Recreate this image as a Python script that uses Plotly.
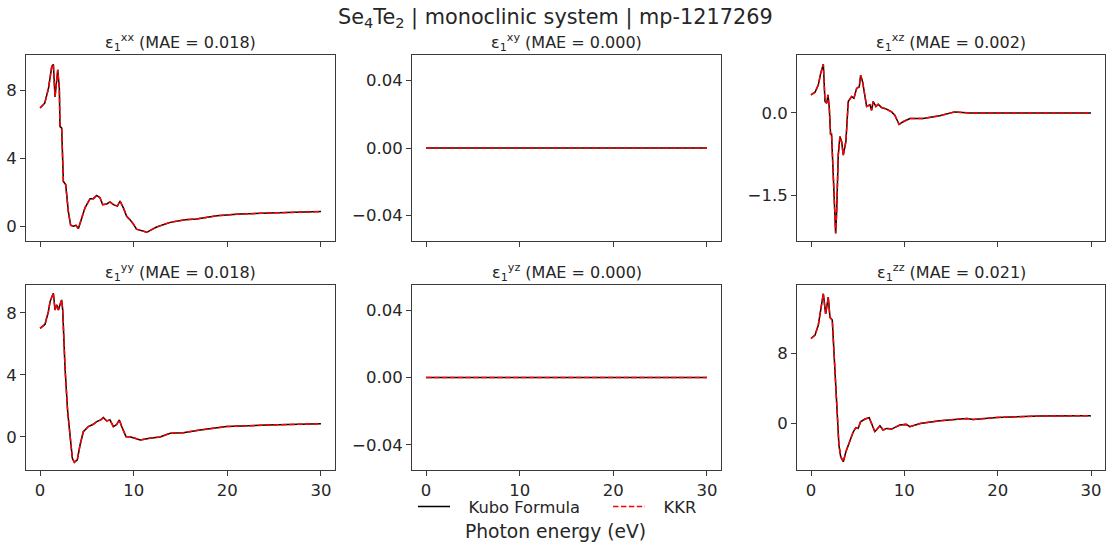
import plotly.graph_objects as go

# ---------------- data ----------------
e_xx = [0.0, 0.5, 0.9, 1.25, 1.42, 1.6, 1.89, 2.06, 2.13, 2.31, 2.49, 2.74, 3.02, 3.27, 3.56, 3.84, 4.09,
        4.45, 4.8, 5.34, 5.7, 6.05, 6.4, 6.69, 7.12, 7.47, 7.83, 8.26, 8.54, 8.9, 9.25, 9.6, 9.96, 10.3,
        11.4, 12.45, 13.9, 15.5, 16.7, 18.9, 21.3, 24.5, 27.4, 30.0]
v_xx = [6.95, 7.23, 8.1, 9.37, 9.5, 7.6, 9.18, 8.1, 5.87, 5.77, 2.65, 2.46, 0.9, 0.08, 0.02, 0.08, -0.12,
        0.5, 1.1, 1.64, 1.64, 1.83, 1.7, 1.29, 1.33, 1.45, 1.29, 1.2, 1.5, 1.1, 0.61, 0.41, 0.16, -0.15,
        -0.33, -0.02, 0.25, 0.41, 0.45, 0.64, 0.74, 0.8, 0.84, 0.88]

e_xy = [0.0, 30.0]
v_xy = [0.0, 0.0]

e_xz = [0.0, 0.43, 0.78, 1.03, 1.32, 1.5, 1.68, 1.82, 1.96, 2.1, 2.2, 2.39, 2.5, 2.64, 2.75, 2.92, 3.1,
        3.28, 3.46, 3.74, 3.99, 4.35, 4.6, 4.89, 5.17, 5.32, 5.53, 5.78, 5.96, 6.31, 6.49, 6.66, 6.95,
        7.2, 7.56, 8.1, 8.63, 8.98, 9.44, 9.87, 10.6, 12.0, 13.8, 15.4, 17.0, 19.1, 30.0]
v_xz = [0.33, 0.38, 0.51, 0.72, 0.89, 0.21, 0.18, 0.33, 0.09, -0.4, -0.37, -1.07, -1.71, -2.2, -1.8,
        -0.77, -0.43, -0.52, -0.77, -0.52, 0.21, 0.3, 0.27, 0.45, 0.48, 0.69, 0.57, 0.27, 0.12, 0.15,
        0.05, 0.21, 0.12, 0.16, 0.1, 0.07, 0.02, -0.04, -0.21, -0.16, -0.1, -0.1, -0.05, 0.02, 0.0, 0.0, 0.0]

e_yy = [0.0, 0.53, 0.89, 1.07, 1.42, 1.6, 1.78, 1.96, 2.13, 2.31, 2.42, 2.67, 2.95, 3.2, 3.45, 3.66,
        3.98, 4.27, 4.62, 5.16, 5.69, 6.05, 6.48, 6.76, 7.12, 7.47, 7.83, 8.18, 8.47, 8.72, 9.18, 9.6,
        10.1, 10.7, 11.7, 12.8, 13.9, 15.3, 17.1, 19.9, 24.2, 30.0]
v_yy = [7.0, 7.27, 8.08, 8.73, 9.27, 8.19, 8.52, 8.19, 8.52, 8.84, 8.19, 4.43, 1.63, -0.08, -1.37, -1.63,
        -1.48, -0.52, 0.34, 0.67, 0.82, 0.99, 1.1, 1.25, 1.03, 1.1, 0.67, 0.8, 1.1, 0.67, 0.02, 0.02,
        -0.08, -0.19, -0.08, 0.0, 0.24, 0.28, 0.45, 0.67, 0.77, 0.85]

e_yz = [0.0, 30.0]
v_yz = [0.0, 0.0]

e_zz = [0.0, 0.43, 0.78, 1.03, 1.32, 1.57, 1.85, 2.03, 2.28, 2.46, 2.75, 2.99, 3.18, 3.46, 3.74, 4.17,
        4.53, 4.81, 5.06, 5.31, 5.78, 6.24, 6.49, 6.84, 7.09, 7.38, 7.73, 8.1, 8.63, 9.17, 9.52, 10.2,
        10.6, 11.7, 13.8, 16.7, 17.4, 19.9, 24.5, 30.0]
v_zz = [9.68, 10.06, 11.2, 12.7, 14.8, 12.5, 14.4, 12.1, 11.8, 8.15, 1.68, -2.51, -3.85, -4.42, -3.28,
        -1.94, -0.99, -0.53, -0.61, 0.15, 0.46, 0.61, -0.04, -0.99, -0.69, -0.3, -0.8, -0.61, -0.69,
        -0.42, -0.23, -0.15, -0.42, -0.04, 0.27, 0.53, 0.42, 0.65, 0.8, 0.84]

components = ["xx", "xy", "xz", "yy", "yz", "zz"]
mae = ["0.018", "0.000", "0.002", "0.018", "0.000", "0.021"]
energies = [e_xx, e_xy, e_xz, e_yy, e_yz, e_zz]
kubo = [v_xx, v_xy, v_xz, v_yy, v_yz, v_zz]
kkr = [v_xx, v_xy, v_xz, v_yy, v_yz, v_zz]

x_ticks = [0, 10, 20, 30]
y_ticks = [[0, 4, 8], [-0.04, 0, 0.04], [-1.5, 0], [0, 4, 8], [-0.04, 0, 0.04], [0, 8]]
y_ticktext = [["0", "4", "8"], ["\u22120.04", "0.00", "0.04"], ["\u22121.5", "0.0"],
              ["0", "4", "8"], ["\u22120.04", "0.00", "0.04"], ["0", "8"]]
y_ranges = [[-0.84, 10.05], [-0.055, 0.055], [-2.34, 1.06], [-2.13, 9.8], [-0.055, 0.055], [-5.37, 15.8]]

title_text = "Se<sub>4</sub>Te<sub>2</sub> | monoclinic system | mp-1217269"

# ---------------- layout ----------------
W, H = 1110, 545
col_px = [(26, 335), (412, 721), (797, 1105)]
row_px = [(55, 241), (285, 470)]
FONT = "DejaVu Sans, Liberation Sans, sans-serif"
TXT = "#262626"
AX = "#3a3a3a"
TICK_SIZE = 16.5
PAD = "\u00a0\u00a0\u2009"

fig = go.Figure()
layout = dict(
    width=W, height=H,
    margin=dict(l=0, r=0, t=0, b=0),
    paper_bgcolor="white", plot_bgcolor="white",
    font=dict(family=FONT, color=TXT, size=15),
    showlegend=True,
    legend=dict(orientation="h", x=413 / W, xanchor="left", y=1 - 507 / H, yanchor="middle",
                font=dict(size=16.3, color=TXT), bgcolor="rgba(0,0,0,0)",
                entrywidth=148, itemwidth=32, tracegroupgap=0),
)
annotations = []

for i in range(6):
    r, c = divmod(i, 3)
    n = i + 1
    xa = "xaxis" if n == 1 else f"xaxis{n}"
    ya = "yaxis" if n == 1 else f"yaxis{n}"
    xref = "x" if n == 1 else f"x{n}"
    yref = "y" if n == 1 else f"y{n}"
    x0, x1 = col_px[c]
    y0, y1 = row_px[r]
    layout[xa] = dict(
        domain=[x0 / W, x1 / W], anchor=yref, range=[-1.5, 31.5],
        tickvals=x_ticks, ticktext=[str(t) for t in x_ticks],
        showticklabels=(r == 1),
        ticks="outside", ticklen=5, tickwidth=1, tickcolor=AX,
        showline=True, linecolor=AX, linewidth=1.1, mirror=True,
        showgrid=False, zeroline=False, tickfont=dict(size=TICK_SIZE, color=TXT),
    )
    layout[ya] = dict(
        domain=[1 - y1 / H, 1 - y0 / H], anchor=xref, range=y_ranges[i],
        tickvals=y_ticks[i], ticktext=y_ticktext[i],
        ticks="outside", ticklen=5, tickwidth=1, tickcolor=AX,
        showline=True, linecolor=AX, linewidth=1.1, mirror=True,
        showgrid=False, zeroline=False, tickfont=dict(size=TICK_SIZE, color=TXT),
    )
    fig.add_trace(go.Scatter(x=energies[i], y=kubo[i], mode="lines",
                             name=PAD + "Kubo Formula",
                             line=dict(color="black", width=1.5), xaxis=xref, yaxis=yref,
                             showlegend=(i == 0), legendrank=1))
    fig.add_trace(go.Scatter(x=energies[i], y=kkr[i], mode="lines", name=PAD + "KKR",
                             line=dict(color="red", width=1.5, dash="5.5px,2.4px"),
                             xaxis=xref, yaxis=yref, showlegend=(i == 0), legendrank=2))
    annotations.append(dict(
        text=f"\u03b5<sub>1</sub><sup>{components[i]}</sup> (MAE = {mae[i]})",
        x=(x0 + x1) / 2 / W, y=1 - (y0 + 1) / H, xref="paper", yref="paper",
        xanchor="center", yanchor="bottom", showarrow=False, font=dict(size=16, color=TXT)))

annotations.append(dict(text=title_text, x=0.5, y=1 - 3 / H, xref="paper", yref="paper",
                        xanchor="center", yanchor="top", showarrow=False,
                        font=dict(size=20.8, color=TXT)))
annotations.append(dict(text="Photon energy (eV)", x=0.5, y=1 - 531 / H, xref="paper", yref="paper",
                        xanchor="center", yanchor="middle", showarrow=False,
                        font=dict(size=18.7, color=TXT)))
layout["annotations"] = annotations
fig.update_layout(**layout)
fig.write_html("out.html")
